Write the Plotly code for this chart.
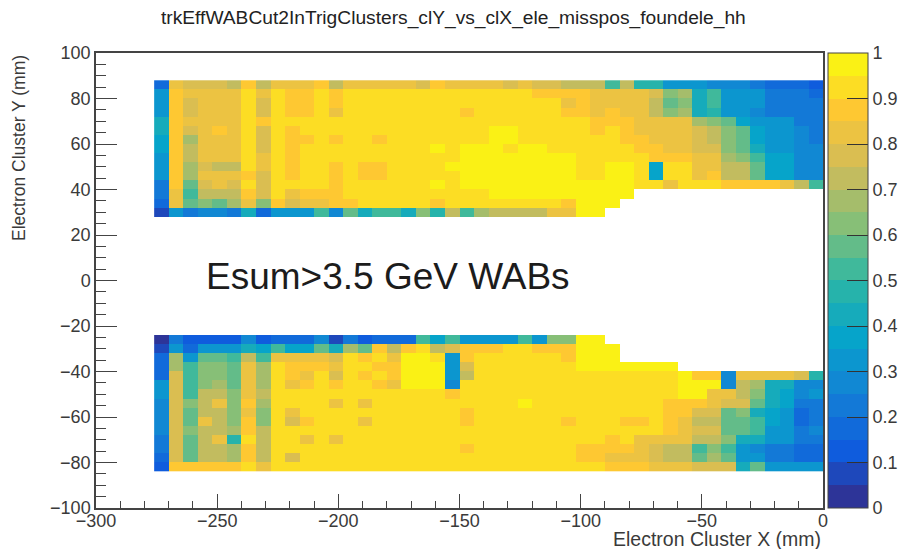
import plotly.graph_objects as go

title = "trkEffWABCut2InTrigClusters_clY_vs_clX_ele_misspos_foundele_hh"
x_label = "Electron Cluster X (mm)"
y_label = "Electron Cluster Y (mm)"
note = "Esum&gt;3.5 GeV WABs"

# bin centres
x_bins = [-273 + 6 * i for i in range(46)]
top_y_bins = [86, 82, 78, 74, 70, 66, 62, 58, 54, 50, 46, 42, 38, 34, 30]
gap_y_bins = [26, 22, 18, 14, 10, 6, 2, -2, -6, -10, -14, -18, -22]
bottom_y_bins = [-26, -30, -34, -38, -42, -46, -50, -54, -58, -62, -66, -70, -74, -78, -82]

# upper module, columns 0-22 then columns 23-45 (shorter rows stop at the beam gap)
top_left = [
 [.15,.82,.75,.77,.77,.70,.88,.73,.82,.80,.80,.87,.74,.83,.82,.82,.82,.80,.78,.88,.84,.83,.83],
 [.30,.88,.80,.82,.82,.82,.91,.82,.91,.87,.87,.90,.86,.91,.91,.91,.91,.91,.91,.91,.90,.90,.91],
 [.32,.88,.76,.82,.82,.82,.91,.78,.91,.87,.87,.90,.85,.91,.91,.91,.92,.91,.90,.91,.90,.90,.91],
 [.34,.88,.76,.82,.82,.82,.91,.78,.90,.86,.86,.90,.84,.91,.91,.91,.90,.90,.91,.90,.90,.88,.91],
 [.40,.88,.80,.84,.84,.82,.91,.86,.90,.90,.90,.91,.90,.92,.92,.92,.92,.92,.92,.92,.93,.92,.93],
 [.42,.88,.78,.82,.86,.82,.91,.78,.90,.86,.90,.93,.90,.93,.93,.93,.93,.92,.92,.93,.93,.93,.94],
 [.38,.88,.68,.80,.82,.82,.91,.78,.90,.86,.88,.91,.88,.92,.90,.87,.92,.92,.92,.93,.94,.93,.94],
 [.36,.87,.74,.80,.82,.80,.91,.78,.90,.87,.90,.92,.90,.93,.93,.93,.94,.94,.94,.96,.94,.95,.96],
 [.34,.87,.74,.80,.80,.80,.91,.80,.90,.87,.90,.93,.90,.94,.94,.94,.94,.94,.94,.94,.94,.95,.96],
 [.32,.86,.66,.76,.74,.72,.91,.80,.90,.87,.90,.91,.88,.92,.87,.87,.93,.93,.94,.94,.95,.96,.98],
 [.30,.86,.66,.80,.80,.80,.88,.78,.90,.87,.90,.91,.88,.92,.87,.87,.93,.93,.94,.94,.94,.96,.98],
 [.22,.85,.56,.76,.80,.78,.90,.78,.90,.90,.90,.94,.88,.92,.90,.90,.92,.94,.94,.95,.94,.96,.96],
 [.20,.84,.54,.74,.74,.74,.86,.76,.90,.84,.86,.88,.88,.91,.91,.91,.90,.92,.92,.92,.92,.93,.94],
 [.15,.82,.55,.62,.58,.68,.82,.64,.88,.76,.84,.84,.85,.88,.90,.90,.90,.90,.90,.88,.90,.90,.90],
 [.05,.32,.22,.26,.27,.20,.42,.17,.33,.33,.33,.50,.28,.55,.40,.50,.50,.44,.62,.46,.70,.50,.65],
]
top_right = [
 [.80,.76,.82,.76,.75,.74,.73,.72,.50,.70,.47,.45,.33,.30,.30,.28,.27,.27,.22,.18,.17,.15,.12],
 [.91,.90,.90,.88,.88,.85,.88,.82,.82,.82,.82,.75,.60,.65,.42,.50,.32,.30,.30,.22,.22,.20,.18],
 [.91,.90,.90,.90,.90,.84,.88,.80,.84,.82,.80,.74,.58,.62,.42,.50,.32,.32,.30,.22,.22,.20,.20],
 [.91,.91,.91,.90,.90,.86,.88,.82,.85,.84,.82,.74,.62,.65,.42,.48,.33,.30,.25,.22,.22,.20,.20],
 [.94,.93,.91,.91,.91,.90,.90,.88,.86,.86,.84,.82,.82,.82,.68,.60,.55,.38,.32,.30,.30,.22,.22],
 [.96,.97,.94,.92,.91,.91,.90,.88,.90,.88,.84,.84,.84,.84,.75,.74,.62,.55,.38,.32,.32,.25,.22],
 [.97,.97,.94,.93,.91,.91,.90,.90,.90,.88,.86,.84,.83,.84,.75,.74,.62,.55,.38,.30,.30,.25,.22],
 [.96,.94,.95,.95,.93,.92,.91,.91,.90,.90,.88,.88,.84,.84,.78,.78,.62,.58,.40,.32,.30,.25,.25],
 [.97,.97,.97,.97,.97,.95,.93,.92,.92,.91,.90,.88,.88,.85,.80,.80,.68,.62,.50,.38,.35,.25,.25],
 [.96,.97,.96,.97,.97,.96,.93,.90,.96,.96,.93,.38,.90,.90,.80,.84,.72,.72,.58,.38,.35,.28,.28],
 [.97,.96,.97,.97,.97,.95,.94,.90,.97,.96,.92,.36,.90,.91,.80,.85,.72,.72,.58,.38,.35,.28,.28],
 [.96,.96,.97,.97,.97,.96,.96,.96,.96,.95,.94,.93,.80,.91,.91,.90,.88,.88,.86,.85,.83,.70,.50],
 [.97,.97,.97,.97,.96,.97,.99,.99,.99,.99],
 [.92,.91,.91,.91,.91,.88,.99,.99,.99],
 [.72,.72,.72,.70,.82,.82,.99,.99],
]

# lower module
bottom_left = [
 [.03,.20,.12,.12,.12,.13,.25,.10,.18,.16,.16,.25,.08,.22,.12,.15,.15,.16,.50,.35,.52,.30,.32],
 [.05,.30,.15,.30,.30,.30,.42,.35,.50,.38,.38,.55,.42,.68,.55,.85,.72,.85,.93,.72,.75,.85,.88],
 [.15,.66,.30,.56,.56,.54,.72,.52,.84,.80,.82,.84,.78,.90,.88,.90,.80,.96,.96,.90,.32,.88,.91],
 [.15,.68,.50,.62,.64,.56,.80,.66,.90,.88,.86,.86,.80,.90,.90,.88,.86,.97,.98,.97,.32,.76,.90],
 [.15,.76,.50,.64,.62,.56,.84,.66,.90,.86,.82,.90,.78,.91,.88,.90,.88,.97,.99,.98,.30,.74,.91],
 [.30,.78,.52,.64,.66,.56,.82,.66,.90,.84,.86,.90,.86,.90,.90,.88,.82,.96,.99,.98,.28,.90,.93],
 [.30,.78,.54,.70,.70,.60,.84,.70,.91,.90,.90,.90,.90,.90,.90,.91,.90,.90,.91,.91,.85,.91,.91],
 [.28,.78,.60,.72,.82,.62,.86,.68,.91,.90,.91,.90,.80,.91,.84,.90,.90,.90,.90,.90,.90,.90,.90],
 [.28,.78,.58,.70,.70,.60,.84,.64,.91,.84,.90,.90,.90,.90,.90,.90,.91,.90,.90,.91,.91,.86,.90],
 [.28,.78,.58,.82,.70,.60,.86,.64,.91,.78,.86,.90,.90,.91,.82,.90,.91,.91,.91,.91,.91,.88,.91],
 [.25,.76,.62,.74,.70,.66,.86,.72,.91,.90,.91,.90,.90,.92,.90,.90,.92,.92,.92,.91,.91,.91,.92],
 [.20,.76,.58,.74,.82,.46,.91,.74,.91,.90,.80,.90,.80,.92,.91,.91,.91,.91,.91,.92,.91,.91,.92],
 [.20,.78,.58,.70,.70,.68,.88,.72,.91,.90,.90,.90,.90,.91,.90,.90,.90,.91,.91,.91,.90,.88,.90],
 [.18,.78,.56,.70,.70,.68,.88,.72,.91,.78,.90,.90,.90,.93,.93,.93,.93,.93,.93,.91,.92,.92,.92],
 [.12,.87,.87,.87,.87,.87,.92,.82,.93,.92,.92,.93,.93,.93,.93,.93,.93,.93,.93,.93,.93,.93,.93],
]
bottom_right = [
 [.30,.30,.52,.30,.60,.60,.99,.99],
 [.88,.90,.90,.88,.86,.87,.99,.99,.99],
 [.92,.90,.91,.90,.90,.88,.99,.99,.99],
 [.91,.91,.92,.91,.91,.91,.96,.97,.99,.99,.99,.99,.99],
 [.93,.93,.94,.94,.94,.93,.94,.94,.94,.94,.93,.93,.93,.97,.85,.86,.28,.82,.82,.80,.80,.75,.48],
 [.91,.91,.93,.93,.93,.93,.92,.92,.92,.92,.91,.91,.91,.99,.99,.96,.25,.72,.66,.42,.40,.25,.28],
 [.93,.93,.94,.94,.94,.93,.93,.93,.93,.92,.91,.91,.91,.99,.99,.80,.80,.72,.60,.42,.38,.25,.30],
 [.93,.93,.96,.94,.93,.91,.92,.92,.91,.91,.90,.90,.88,.88,.85,.80,.78,.75,.55,.40,.35,.20,.20],
 [.93,.93,.94,.94,.93,.92,.93,.91,.92,.91,.91,.90,.88,.85,.75,.75,.55,.62,.42,.35,.30,.15,.20],
 [.93,.93,.93,.93,.93,.88,.92,.92,.93,.88,.88,.90,.88,.84,.74,.74,.56,.56,.50,.36,.30,.15,.22],
 [.93,.93,.92,.92,.91,.91,.92,.91,.92,.91,.91,.90,.85,.84,.75,.75,.58,.58,.52,.33,.30,.22,.25],
 [.91,.90,.91,.90,.91,.90,.90,.91,.88,.91,.82,.82,.84,.80,.70,.70,.62,.42,.42,.33,.30,.20,.22],
 [.91,.90,.92,.90,.91,.90,.86,.88,.86,.86,.84,.78,.74,.74,.52,.62,.50,.30,.28,.20,.20,.15,.15],
 [.91,.91,.92,.91,.90,.90,.88,.86,.84,.84,.84,.78,.74,.74,.58,.66,.58,.32,.30,.20,.20,.15,.18],
 [.91,.91,.91,.91,.91,.91,.90,.90,.88,.88,.86,.84,.84,.80,.78,.78,.78,.42,.58,.30,.30,.30,.30],
]

x_ticks = [-300, -250, -200, -150, -100, -50, 0]
y_ticks = [-100, -80, -60, -40, -20, 0, 20, 40, 60, 80, 100]
z_ticks = [0, .1, .2, .3, .4, .5, .6, .7, .8, .9, 1]
z_tick_text = ["0", "0.1", "0.2", "0.3", "0.4", "0.5", "0.6", "0.7", "0.8", "0.9", "1"]

# ROOT "bird" palette anchors
bird_colors = [
    (0.2082, 0.1664, 0.5293), (0.0592, 0.3599, 0.8684), (0.0780, 0.5041, 0.8385),
    (0.0232, 0.6419, 0.7914), (0.1802, 0.7178, 0.6425), (0.5301, 0.7492, 0.4662),
    (0.8186, 0.7328, 0.3499), (0.9956, 0.7862, 0.1968), (0.9764, 0.9832, 0.0539),
]
n_levels = 20


def bird(t):
    p = t * (len(bird_colors) - 1)
    i = min(int(p), len(bird_colors) - 2)
    f = p - i
    a, b = bird_colors[i], bird_colors[i + 1]
    return "rgb(%d,%d,%d)" % tuple(round(255 * (a[k] + (b[k] - a[k]) * f)) for k in range(3))


colorscale = []
for lev in range(n_levels):
    c = bird((lev + 0.5) / n_levels)
    colorscale += [[lev / n_levels, c], [(lev + 1) / n_levels, c]]


def full(left, right):
    return [a + b + [None] * (46 - len(a) - len(b)) for a, b in zip(left, right)]


z = full(top_left, top_right) + [[None] * 46 for _ in gap_y_bins] + full(bottom_left, bottom_right)
y_bins = top_y_bins + gap_y_bins + bottom_y_bins

FONT = "Liberation Sans, Arial, sans-serif"
INK = "#3a3a3a"
LINE = "#444444"

fig = go.Figure(go.Heatmap(
    x=x_bins, y=y_bins, z=z, zmin=0, zmax=1, colorscale=colorscale,
    hoverongaps=False, xgap=0, ygap=0,
    colorbar=dict(
        x=(828 - 96) / 727, xanchor="left", xref="paper", y=0, yanchor="bottom", yref="paper",
        len=1, lenmode="fraction", thickness=40, thicknessmode="pixels",
        outlinewidth=1, outlinecolor=LINE, borderwidth=0,
        tickmode="array", tickvals=z_ticks, ticktext=z_tick_text,
        ticks="inside", ticklen=21, tickwidth=1.2, tickcolor="#333333",
        tickfont=dict(family=FONT, size=18, color=INK), xpad=0, ypad=0,
    ),
))

fig.update_layout(
    width=904, height=549, autosize=False,
    margin=dict(l=96, r=81, t=53, b=41, pad=0, autoexpand=False),
    paper_bgcolor="white", plot_bgcolor="white",
    font=dict(family=FONT, color=INK),
    showlegend=False,
    xaxis=dict(
        range=[-300, 0], tickmode="array", tickvals=x_ticks,
        ticks="inside", ticklen=14, tickwidth=1.2, tickcolor=LINE,
        minor=dict(dtick=10, tick0=0, ticks="inside", ticklen=7, tickwidth=1, tickcolor=LINE, showgrid=False),
        showline=True, linecolor=LINE, linewidth=1.5, mirror=True, ticklabelstandoff=-4,
        showgrid=False, zeroline=False, tickfont=dict(family=FONT, size=18, color=INK),
    ),
    yaxis=dict(
        range=[-100, 100], tickmode="array", tickvals=y_ticks,
        ticks="inside", ticklen=21, tickwidth=1.2, tickcolor=LINE,
        minor=dict(dtick=5, tick0=0, ticks="inside", ticklen=10, tickwidth=1, tickcolor=LINE, showgrid=False),
        showline=True, linecolor=LINE, linewidth=1.5, mirror=True,
        showgrid=False, zeroline=False, tickfont=dict(family=FONT, size=18, color=INK),
    ),
    annotations=[
        dict(text=title, xref="paper", yref="paper", x=(453 - 96) / 727, y=1 + 35 / 455,
             xanchor="center", yanchor="middle", showarrow=False,
             font=dict(family=FONT, size=19.2, color="#222222")),
        dict(text=x_label, xref="paper", yref="paper", x=1, y=-31 / 455,
             xanchor="right", yanchor="middle", showarrow=False,
             font=dict(family=FONT, size=19.5, color=INK)),
        dict(text=y_label, xref="paper", yref="paper", x=-77 / 727, y=1, textangle=-90,
             xanchor="center", yanchor="top", showarrow=False,
             font=dict(family=FONT, size=17.5, color=INK)),
        dict(text=note, xref="paper", yref="paper", x=(388 - 96) / 727, y=1 - (276 - 53) / 455,
             xanchor="center", yanchor="middle", showarrow=False,
             font=dict(family=FONT, size=37, color="#1c1c1c")),
    ],
)

fig.write_html("out.html", config={"displayModeBar": False},
               post_script="document.body.style.margin='0';")
